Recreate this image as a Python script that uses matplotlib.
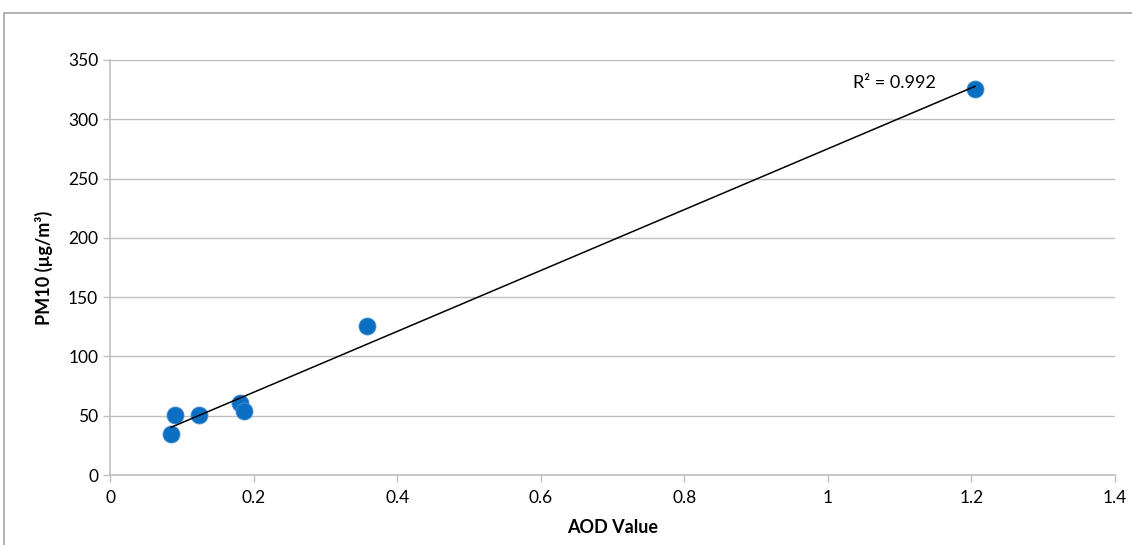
import numpy as np
import matplotlib.pyplot as plt
from matplotlib.patches import Rectangle

aod = [0.085, 0.090, 0.124, 0.181, 0.186, 0.358, 1.205]
pm10 = [34.5, 50.5, 50.5, 60.5, 54.0, 125.5, 325.5]
r2_label = "R² = 0.992"

plt.rcParams['font.family'] = ['Lato', 'DejaVu Sans']

fig = plt.figure(figsize=(11.32, 5.45), dpi=100)
ax = fig.add_axes([110 / 1132, 70 / 545, 1005 / 1132, 415 / 545])

# outer chart frame
fig.patches.append(Rectangle((4 / 1132, -0.01), 1.2, (545 - 13) / 545 + 0.01,
                             transform=fig.transFigure, fill=False,
                             edgecolor='#a6a6a6', linewidth=1.2))

ax.scatter(aod, pm10, s=150, color='#0a6fc2', edgecolors='#4a90d0',
           linewidths=0.6, zorder=3)

coef = np.polyfit(aod, pm10, 1)
xs = np.array([min(aod), max(aod)])
ax.plot(xs, np.polyval(coef, xs), color='black', linewidth=1.1, zorder=4)

ax.text(1.035, 331, r2_label, fontsize=13, va='center', ha='left')

ax.set_xlim(0, 1.4)
ax.set_ylim(0, 350)
ax.set_xticks(np.arange(0, 1.41, 0.2))
ax.set_xticklabels(['0', '0.2', '0.4', '0.6', '0.8', '1', '1.2', '1.4'])
ax.set_yticks(np.arange(0, 351, 50))

ax.grid(axis='y', color='#bfbfbf', linewidth=1)
ax.set_axisbelow(True)
for s in ['top', 'right']:
    ax.spines[s].set_visible(False)
for s in ['left', 'bottom']:
    ax.spines[s].set_color('#bfbfbf')
    ax.spines[s].set_linewidth(1.2)
ax.tick_params(axis='both', colors='#bfbfbf', labelcolor='black',
               labelsize=12.5, length=5, width=1)
ax.tick_params(axis='x', pad=6)

ax.set_xlabel('AOD Value', fontsize=13, fontweight='bold', labelpad=9)
ax.set_ylabel('PM10 (µg/m³)', fontsize=13, fontweight='bold', labelpad=11)

fig.savefig('out.png', dpi=100)
